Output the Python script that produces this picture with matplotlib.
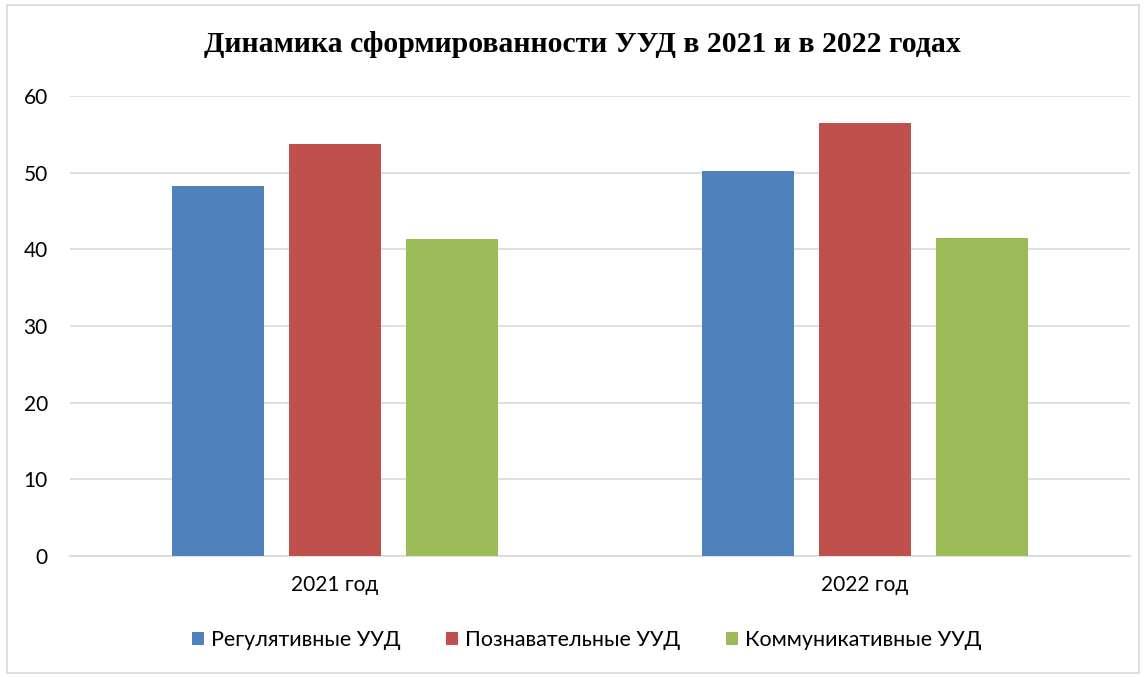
import numpy as np
import matplotlib.pyplot as plt
from matplotlib.patches import Rectangle

# data
years = ['2021 год', '2022 год']
series_names = ['Регулятивные УУД', 'Познавательные УУД', 'Коммуникативные УУД']
reg = [48.2, 50.2]
pozn = [53.8, 56.5]
komm = [41.4, 41.5]
colors = ['#4F81BD', '#C0504D', '#9BBB59']

plt.rcParams['font.family'] = ['Lato', 'DejaVu Sans']

fig = plt.figure(figsize=(11.46, 6.77), dpi=100)
ax = fig.add_axes([70 / 1146, (677 - 556) / 677, 1060 / 1146, 460 / 677])

x = np.arange(len(years))
w = 0.174
step = 0.221
for i, (vals, name) in enumerate(zip([reg, pozn, komm], series_names)):
    ax.bar(x + (i - 1) * step, vals, width=w, color=colors[i], label=name, zorder=3)

ax.set_xlim(-0.5, 1.5)
ax.set_ylim(0, 60)
ax.set_yticks(range(0, 61, 10))
ax.set_xticks(x)
ax.set_xticklabels(years)
ax.grid(axis='y', color='#D9D9D9', linewidth=1.2, zorder=0)
for s in ['top', 'right', 'left']:
    ax.spines[s].set_visible(False)
ax.spines['bottom'].set_color('#D9D9D9')
ax.spines['bottom'].set_linewidth(1.2)
ax.tick_params(axis='both', length=0, labelsize=15, colors='#000000')
ax.tick_params(axis='y', pad=16)
ax.tick_params(axis='x', pad=14)

fig.text(0.508, (677 - 45) / 677, 'Динамика сформированности УУД в 2021 и в 2022 годах',
         ha='center', va='center', fontsize=21.4, fontweight='bold', family='Liberation Serif')

leg = fig.legend(loc='center', bbox_to_anchor=(0.512, (677 - 640) / 677), ncol=3, frameon=False,
                 fontsize=15.5, handlelength=0.55, handleheight=0.55, handletextpad=0.35, columnspacing=2.1)

# outer chart border
fig.patches.append(Rectangle((7 / 1146, 4 / 677), 1132 / 1146, 668 / 677, transform=fig.transFigure,
                             fill=False, edgecolor='#D9D9D9', linewidth=1.2))

fig.savefig('out.png', dpi=100)
